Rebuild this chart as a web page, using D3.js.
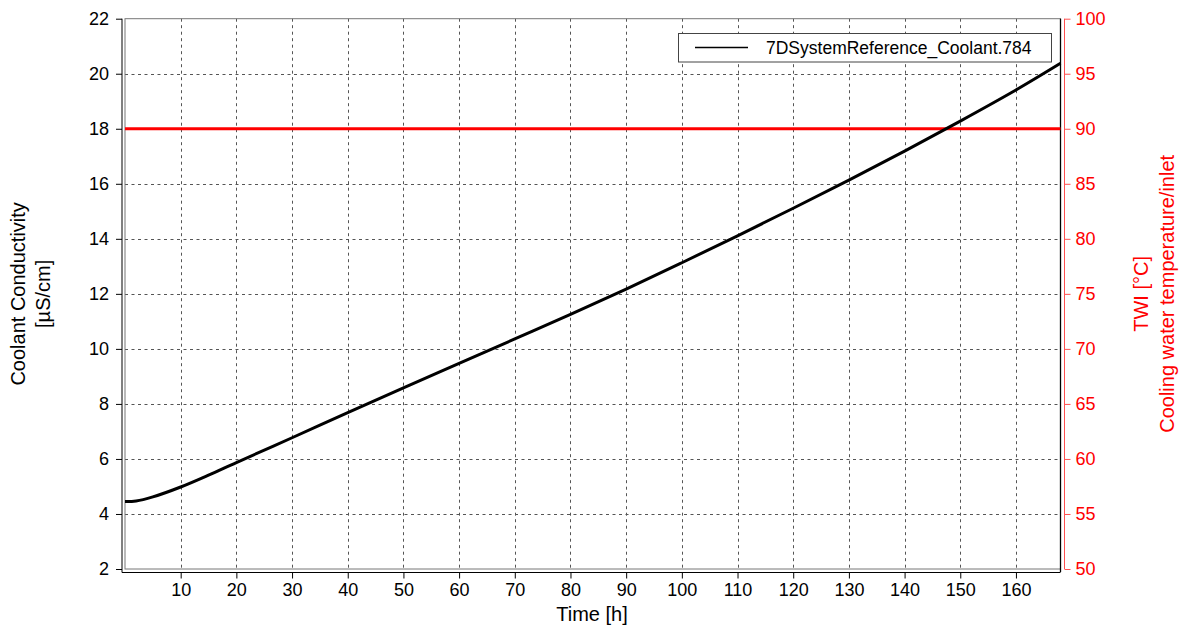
<!DOCTYPE html>
<html>
<head>
<meta charset="utf-8">
<script src="https://cdn.jsdelivr.net/npm/d3@7"></script>
<style>
  html, body { margin: 0; padding: 0; background: #fff; }
  svg { display: block; font-family: "Liberation Sans", Arial, sans-serif; }
</style>
</head>
<body>
<svg id="chart" width="1185" height="628"></svg>
<script>
// Coolant conductivity over the test run [µS/cm]
const timeHours = [0, 2, 5, 10, 15, 20, 30, 40, 50, 60, 70, 80, 90, 100, 110, 120, 130, 140, 150, 160, 168];
const conductivity = [4.45, 4.47, 4.62, 4.98, 5.41, 5.87, 6.77, 7.68, 8.58, 9.47, 10.36, 11.25, 12.17, 13.13, 14.11, 15.11, 16.13, 17.19, 18.28, 19.41, 20.38];

// Cooling water inlet temperature (TWI) [°C]
const twiTime = [0, 24, 48, 72, 96, 120, 144, 168];
const twiValues = [90, 90, 90, 90, 90, 90, 90, 90];

// Tick values
const xTicks = [10, 20, 30, 40, 50, 60, 70, 80, 90, 100, 110, 120, 130, 140, 150, 160];
const yTicks = [2, 4, 6, 8, 10, 12, 14, 16, 18, 20, 22];
const y2Ticks = [50, 55, 60, 65, 70, 75, 80, 85, 90, 95, 100];

const legendLabel = "7DSystemReference_Coolant.784";

const svg = d3.select("#chart");
const plot = { left: 125, right: 1060.5, top: 18.7, bottom: 569 };

const x = d3.scaleLinear().domain([0, 168]).range([plot.left, plot.right]);
const y = d3.scaleLinear().domain([2, 22]).range([plot.bottom, plot.top]);
const y2 = d3.scaleLinear().domain([50, 100]).range([plot.bottom, plot.top]);

// Grid
const grid = svg.append("g").attr("stroke", "#555").attr("stroke-width", 1).attr("stroke-dasharray", "3,3.5");
grid.selectAll("line.v").data(xTicks).join("line")
  .attr("x1", d => Math.round(x(d)) + 0.5).attr("x2", d => Math.round(x(d)) + 0.5)
  .attr("y1", plot.top).attr("y2", plot.bottom);
grid.selectAll("line.h").data(yTicks.filter(d => d > 2 && d < 22)).join("line")
  .attr("y1", d => Math.round(y(d)) + 0.5).attr("y2", d => Math.round(y(d)) + 0.5)
  .attr("x1", plot.left).attr("x2", plot.right);

// Plot frame
svg.append("rect")
  .attr("x", plot.left).attr("y", plot.top)
  .attr("width", plot.right - plot.left).attr("height", plot.bottom - plot.top)
  .attr("fill", "none").attr("stroke", "#777").attr("stroke-width", 1);
svg.append("line")
  .attr("x1", plot.right).attr("x2", plot.right).attr("y1", plot.top).attr("y2", plot.bottom + 3)
  .attr("stroke", "#000").attr("stroke-width", 1.3);

// Data lines
const tempLine = d3.line().x((d, i) => x(twiTime[i])).y(d => y2(d));
svg.append("path")
  .attr("d", tempLine(twiValues))
  .attr("fill", "none").attr("stroke", "#ff0000").attr("stroke-width", 3);

const condLine = d3.line().curve(d3.curveCatmullRom.alpha(0.5)).x((d, i) => x(timeHours[i])).y(d => y(d));
svg.append("path")
  .attr("d", condLine(conductivity))
  .attr("fill", "none").attr("stroke", "#000").attr("stroke-width", 3);

// Axes
const tickFont = "18px";
const titleFont = "20px";

const xAxis = svg.append("g")
  .attr("transform", `translate(0,${plot.bottom + 3.5})`)
  .call(d3.axisBottom(x).tickValues(xTicks).tickSize(6).tickPadding(5).tickFormat(d3.format("d")));
xAxis.select(".domain").attr("stroke", "#000").attr("d", `M${plot.left - 3},0H${plot.right}`);
xAxis.selectAll("text").attr("font-size", tickFont).attr("fill", "#000");
xAxis.selectAll(".tick line").attr("stroke", "#000");

const yAxis = svg.append("g")
  .attr("transform", `translate(${plot.left - 3},0)`)
  .call(d3.axisLeft(y).tickValues(yTicks).tickSize(6).tickPadding(7).tickFormat(d3.format("d")));
yAxis.select(".domain").attr("stroke", "#000").attr("d", `M0,${plot.top}V${plot.bottom + 3.5}`);
yAxis.selectAll("text").attr("font-size", tickFont).attr("fill", "#000");
yAxis.selectAll(".tick line").attr("stroke", "#000");

const y2Axis = svg.append("g")
  .attr("transform", `translate(${plot.right + 4},0)`)
  .call(d3.axisRight(y2).tickValues(y2Ticks).tickSize(6).tickPadding(5).tickFormat(d3.format("d")));
y2Axis.select(".domain").attr("stroke", "#ff5050").attr("d", `M0,${plot.top}V${plot.bottom}`);
y2Axis.selectAll("text").attr("font-size", tickFont).attr("fill", "#ff0000");
y2Axis.selectAll(".tick line").attr("stroke", "#ff5050");

// Axis titles
svg.append("text")
  .attr("x", 592).attr("y", 621)
  .attr("text-anchor", "middle").attr("font-size", titleFont).attr("fill", "#000")
  .text("Time [h]");

const midY = (plot.top + plot.bottom) / 2;
const leftTitle = svg.append("g").attr("transform", `translate(0,${midY}) rotate(-90)`)
  .attr("font-size", titleFont).attr("fill", "#000").attr("text-anchor", "middle");
leftTitle.append("text").attr("x", 0).attr("y", 25).text("Coolant Conductivity");
leftTitle.append("text").attr("x", 0).attr("y", 50).text("[µS/cm]");

const rightTitle = svg.append("g").attr("transform", `translate(0,${midY}) rotate(-90)`)
  .attr("font-size", titleFont).attr("fill", "#ff0000").attr("text-anchor", "middle");
rightTitle.append("text").attr("x", 0).attr("y", 1148).text("TWI [°C]");
rightTitle.append("text").attr("x", 0).attr("y", 1173.5).text("Cooling water temperature/inlet");

// Legend
const legend = svg.append("g");
legend.append("rect")
  .attr("x", 678.5).attr("y", 33.5).attr("width", 373).attr("height", 28.5)
  .attr("fill", "#fff").attr("stroke", "#444").attr("stroke-width", 1);
legend.append("line")
  .attr("x1", 695).attr("x2", 748).attr("y1", 47.5).attr("y2", 47.5)
  .attr("stroke", "#000").attr("stroke-width", 1.5);
legend.append("text")
  .attr("x", 766).attr("y", 54)
  .attr("font-size", "17.5px").attr("fill", "#000")
  .text(legendLabel);
</script>
</body>
</html>
